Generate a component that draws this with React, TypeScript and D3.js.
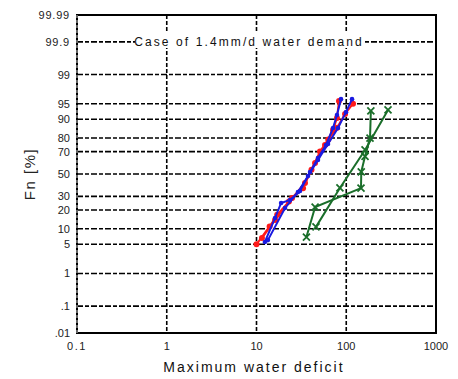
import React from "react";
import * as d3 from "d3";

// probability ticks (%)
const yTicks = [0.01, 0.1, 1, 5, 10, 20, 30, 50, 70, 80, 90, 95, 99, 99.9, 99.99];
const yTickLabels = [".01", ".1", "1", "5", "10", "20", "30", "50", "70", "80", "90", "95", "99", "99.9", "99.99"];
const xTicks = [0.1, 1, 10, 100, 1000];
const xTickLabels = ["0.1", "1", "10", "100", "1000"];

// red series
const redAX = [10, 14, 17, 23, 33, 41, 51, 63, 79, 97, 119];
const redAP = [5, 11, 17, 26, 37, 54, 70, 79, 86, 92, 95];
const redBX = [11.5, 16.1, 24.9, 34.7, 44.9, 58, 71.2, 78.8, 83];
const redBP = [6.7, 14.1, 28.7, 41.7, 60.1, 75.1, 84.8, 90.5, 95.6];

// blue series
const blueAX = [12.4, 16.1, 18.8, 23.6, 30.5, 39.5, 48.4, 59.5, 71.2, 78.8, 87.4];
const blueAP = [5.6, 15.2, 24.9, 27.2, 34.5, 51.9, 64.6, 75.1, 85.9, 91.6, 96];
const blueBX = [13.4, 20.8, 29, 37.5, 48.4, 62.6, 80.9, 99.3, 116];
const blueBP = [6.1, 21.3, 33.7, 48.1, 62.8, 75.9, 85.9, 92.6, 96];

// green series
const greenAX = [36, 45, 146, 147, 162, 184, 188];
const greenAP = [7, 22, 37, 52, 66, 80, 93];
const greenBX = [46, 85, 162, 292];
const greenBP = [10.8, 37.2, 71.3, 93.3];

// inverse standard normal cdf (Acklam)
function probit(p: number): number {
  const a = [-39.69683028665376, 220.9460984245205, -275.9285104469687, 138.357751867269, -30.66479806614716, 2.506628277459239];
  const b = [-54.47609879822406, 161.5858368580409, -155.6989798598866, 66.80131188771972, -13.28068155288572];
  const c = [-0.007784894002430293, -0.3223964580411365, -2.400758277161838, -2.549732539343734, 4.374664141464968, 2.938163982698783];
  const d = [0.007784695709041462, 0.3224671290700398, 2.445134137142996, 3.754408661907416];
  const pl = 0.02425;
  if (p < pl) {
    const q = Math.sqrt(-2 * Math.log(p));
    return (((((c[0] * q + c[1]) * q + c[2]) * q + c[3]) * q + c[4]) * q + c[5]) /
      ((((d[0] * q + d[1]) * q + d[2]) * q + d[3]) * q + 1);
  }
  if (p > 1 - pl) {
    const q = Math.sqrt(-2 * Math.log(1 - p));
    return -(((((c[0] * q + c[1]) * q + c[2]) * q + c[3]) * q + c[4]) * q + c[5]) /
      ((((d[0] * q + d[1]) * q + d[2]) * q + d[3]) * q + 1);
  }
  const q = p - 0.5;
  const r = q * q;
  return (((((a[0] * r + a[1]) * r + a[2]) * r + a[3]) * r + a[4]) * r + a[5]) * q /
    (((((b[0] * r + b[1]) * r + b[2]) * r + b[3]) * r + b[4]) * r + 1);
}

const W = 458;
const H = 379;
const left = 77, right = 436, top = 15, bottom = 333;

const x = d3.scaleLog().domain([0.1, 1000]).range([left, right]);
const zScale = d3.scaleLinear()
  .domain([probit(0.0001), probit(0.9999)])
  .range([bottom, top]);
const y = (pct: number) => zScale(probit(pct / 100));

const line = d3.line<[number, number]>()
  .x(d => x(d[0]))
  .y(d => y(d[1]));

const zip = (xs: number[], ps: number[]) => xs.map((v, i) => [v, ps[i]] as [number, number]);

const series = [
  { pts: zip(greenAX, greenAP), color: "#1a6e2a", mark: "x" },
  { pts: zip(greenBX, greenBP), color: "#1a6e2a", mark: "x" },
  { pts: zip(redAX, redAP), color: "#ff1a1a", mark: "o" },
  { pts: zip(redBX, redBP), color: "#ff1a1a", mark: "o" },
  { pts: zip(blueAX, blueAP), color: "#1a1ae0", mark: "d" },
  { pts: zip(blueBX, blueBP), color: "#1a1ae0", mark: "d" },
];

const gridDash = "6,2,4,2";
const font = "'Liberation Sans', Arial, sans-serif";

export default function App() {
  return (
    <svg width={W} height={H} style={{ position: "absolute", left: 0, top: 0, background: "#fff" }}>
      {/* horizontal grid */}
      {yTicks.slice(1, -1).map(t => (
        <line key={"h" + t} x1={left} x2={right} y1={y(t)} y2={y(t)}
          stroke="#000" strokeWidth={1.6} strokeDasharray={gridDash} />
      ))}
      {/* vertical grid */}
      {xTicks.slice(1, -1).map(t => (
        <line key={"v" + t} x1={x(t)} x2={x(t)} y1={top} y2={bottom}
          stroke="#000" strokeWidth={1.6} strokeDasharray="4,2" />
      ))}
      {/* case label */}
      <rect x={135} y={32} width={228} height={16} fill="#fff" />
      <text x={249} y={y(99.9)} textAnchor="middle" dominantBaseline="central"
        fontFamily={font} fontSize={12} letterSpacing={2.1} fill="#111">
        Case of 1.4mm/d water demand
      </text>
      {/* frame */}
      <rect x={left} y={top} width={right - left} height={bottom - top}
        fill="none" stroke="#000" strokeWidth={2} />
      {/* left axis dashed look */}
      <line x1={left} x2={left} y1={top} y2={bottom} stroke="#fff" strokeWidth={0.8} strokeDasharray="3,2" />
      {/* series */}
      {series.map((s, i) => (
        <g key={"s" + i}>
          <path d={line(s.pts) || ""} fill="none" stroke={s.color} strokeWidth={2} />
          {s.pts.map((p, j) => {
            const cx = x(p[0]);
            const cy = y(p[1]);
            if (s.mark === "x") {
              return (
                <path key={j} d={`M${cx - 3.5},${cy - 3.5}L${cx + 3.5},${cy + 3.5}M${cx - 3.5},${cy + 3.5}L${cx + 3.5},${cy - 3.5}`}
                  stroke={s.color} strokeWidth={1.8} />
              );
            }
            return <circle key={j} cx={cx} cy={cy} r={s.mark === "o" ? 3 : 2.3} fill={s.color} />;
          })}
        </g>
      ))}
      {/* y tick labels */}
      {yTicks.map((t, i) => (
        <text key={"yl" + t} x={70} y={y(t)} textAnchor="end" dominantBaseline="central"
          fontFamily={font} fontSize={11} fill="#222" letterSpacing={t > 99 ? 0.8 : 0}>
          {yTickLabels[i]}
        </text>
      ))}
      {/* x tick labels */}
      {xTicks.map((t, i) => (
        <text key={"xl" + t} x={x(t)} y={346} textAnchor="middle" dominantBaseline="central"
          fontFamily={font} fontSize={11} fill="#222" letterSpacing={t === 0.1 ? 1.5 : 0}>
          {xTickLabels[i]}
        </text>
      ))}
      {/* axis titles */}
      <text x={254} y={367} textAnchor="middle" dominantBaseline="central"
        fontFamily={font} fontSize={14} letterSpacing={2} fill="#111">
        Maximum water deficit
      </text>
      <text transform={`translate(29,${(top + bottom) / 2}) rotate(-90)`} textAnchor="middle"
        dominantBaseline="central" fontFamily={font} fontSize={15} letterSpacing={1.5} fill="#222">
        Fn [%]
      </text>
    </svg>
  );
}
